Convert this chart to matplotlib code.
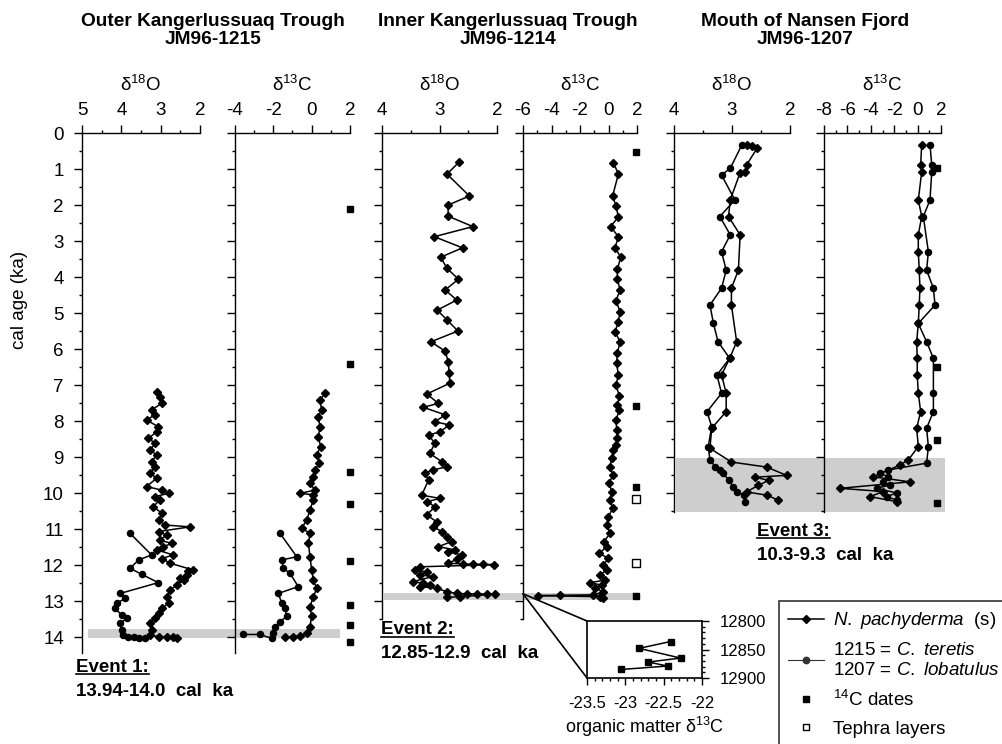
import matplotlib
matplotlib.use('Agg')
import matplotlib.pyplot as plt
from matplotlib.lines import Line2D
from matplotlib.patches import ConnectionPatch
from matplotlib.ticker import MultipleLocator

plt.rcParams['font.family'] = ['Liberation Sans', 'DejaVu Sans']
plt.rcParams['mathtext.fontset'] = 'custom'
plt.rcParams['mathtext.rm'] = 'Liberation Sans'
plt.rcParams['mathtext.it'] = 'Liberation Sans:italic'
plt.rcParams['mathtext.bf'] = 'Liberation Sans:bold'
plt.rcParams['axes.unicode_minus'] = False

# ---------------- data ----------------
# JM96-1215  d18O  N. pachyderma
age_1215_np_o = [7.19, 7.33, 7.51, 7.69, 7.83, 7.97, 8.16, 8.30, 8.48, 8.62, 8.81, 8.94, 9.13, 9.27,
                 9.45, 9.59, 9.82, 9.92, 10.01, 10.10, 10.19, 10.38, 10.56, 10.75, 10.89, 10.94,
                 11.07, 11.17, 11.31, 11.40, 11.49, 11.58, 11.72, 11.82, 11.95, 12.14, 12.18,
                 12.28, 12.37, 12.42, 12.56, 12.69, 12.88, 13.06, 13.20, 13.34, 13.48, 13.62,
                 13.81, 13.95, 13.99, 14.00, 14.01, 14.02]
d18o_1215_np = [3.10, 3.02, 2.97, 3.23, 3.14, 3.36, 3.06, 3.10, 3.31, 3.14, 3.27, 3.10, 3.23, 3.14,
                3.27, 3.10, 3.36, 2.97, 2.80, 3.14, 3.02, 3.19, 2.97, 3.05, 2.89, 2.25,
                3.05, 2.85, 3.02, 2.72, 2.93, 3.10, 2.68, 2.97, 2.76, 2.17, 2.30,
                2.34, 2.51, 2.40, 2.59, 2.76, 2.85, 2.80, 2.97, 3.05, 3.14, 3.27,
                3.23, 3.27, 3.05, 2.85, 2.68, 2.59]
# JM96-1215  d18O  C. teretis
age_1215_ct_o = [11.12, 11.72, 11.86, 12.09, 12.26, 12.49, 12.79, 12.93, 13.06, 13.20, 13.39,
                 13.48, 13.62, 13.81, 13.94, 13.99, 14.00, 14.04, 14.02]
d18o_1215_ct = [3.78, 3.23, 3.56, 3.78, 3.48, 3.06, 4.03, 3.90, 4.12, 4.17, 3.99,
                3.86, 4.03, 3.99, 3.95, 3.82, 3.69, 3.56, 3.39]
# JM96-1215  d13C  N. pachyderma
age_1215_np_c = [7.23, 7.42, 7.69, 7.88, 8.16, 8.44, 8.71, 8.94, 9.18, 9.36, 9.55, 9.73, 9.92,
                 10.01, 10.05, 10.19, 10.47, 10.75, 10.98, 11.12, 11.40, 11.77, 12.14, 12.42,
                 12.65, 12.88, 13.16, 13.43, 13.71, 13.90, 13.97, 13.99, 14.00]
d13c_1215_np = [0.69, 0.43, 0.52, 0.35, 0.43, 0.35, 0.47, 0.26, 0.40, 0.17, 0.09, -0.09, 0.17,
                -0.61, 0.09, 0.09, -0.09, -0.26, -0.52, -0.09, -0.17, -0.09, 0.00, 0.09,
                0.26, 0.09, -0.09, 0.00, -0.09, -0.26, -0.61, -0.96, -1.39]
# JM96-1215  d13C  C. teretis
age_1215_ct_c = [11.12, 11.77, 11.86, 12.09, 12.23, 12.60, 12.79, 13.06, 13.20, 13.43, 13.57,
                 13.71, 13.90, 14.04, 13.93, 13.93]
d13c_1215_ct = [-1.65, -0.78, -1.56, -1.48, -1.13, -0.70, -1.74, -1.56, -1.39, -1.30, -1.65,
                -1.91, -2.00, -2.08, -2.70, -3.57]

# JM96-1214  d18O  N. pachyderma
age_1214_o = [0.81, 1.14, 1.75, 2.00, 2.31, 2.60, 2.88, 3.19, 3.45, 3.76, 4.06, 4.36, 4.64, 4.92,
              5.19, 5.50, 5.80, 6.06, 6.35, 6.68, 6.95, 7.25, 7.51, 7.62, 7.83, 8.02, 8.11, 8.30,
              8.39, 8.62, 8.90, 9.13, 9.27, 9.36, 9.45, 9.64, 10.06, 10.15, 10.24, 10.38, 10.61,
              10.80, 10.94, 11.07, 11.21, 11.35, 11.49, 11.58, 11.63, 11.72, 11.84, 11.95, 11.97,
              11.98, 11.98, 11.99, 12.05, 12.14, 12.19, 12.27, 12.32, 12.46, 12.51, 12.56, 12.60,
              12.65, 12.74, 12.79, 12.80, 12.80, 12.81, 12.81, 12.88, 12.90]
d18o_1214 = [2.66, 2.87, 2.48, 2.85, 2.85, 2.42, 3.09, 2.60, 2.98, 2.87, 2.67, 2.90, 2.70, 3.04,
              2.87, 2.68, 3.15, 2.90, 2.85, 2.83, 2.82, 3.22, 3.02, 3.28, 2.90, 3.08, 2.83, 2.99,
              3.19, 3.08, 3.17, 2.96, 2.87, 3.11, 3.25, 3.19, 3.31, 2.99, 3.22, 3.08, 3.22,
              3.05, 3.11, 2.96, 2.87, 2.79, 3.02, 2.73, 2.85, 2.61, 2.70, 2.85, 2.59,
              2.41, 2.24, 2.06, 3.34, 3.43, 3.22, 3.34, 3.11, 3.46, 3.28, 3.17, 3.34,
              3.05, 2.87, 2.70, 2.53, 2.35, 2.18, 2.03, 2.64, 2.87]
# JM96-1214  d13C  N. pachyderma
age_1214_c = [0.82, 1.14, 1.75, 2.03, 2.33, 2.60, 2.88, 3.19, 3.45, 3.79, 4.06, 4.36, 4.66, 4.96,
              5.24, 5.52, 5.80, 6.12, 6.40, 6.72, 7.00, 7.31, 7.56, 7.69, 7.97, 8.25, 8.48, 8.67,
              8.80, 9.04, 9.27, 9.50, 9.73, 9.97, 10.19, 10.43, 10.66, 10.89, 11.12, 11.35, 11.49,
              11.68, 11.81, 12.00, 12.14, 12.28, 12.42, 12.49, 12.56, 12.65, 12.74, 12.83, 12.84,
              12.85, 12.88, 12.93]
d13c_1214 = [0.34, 0.69, 0.29, 0.53, 0.69, 0.15, 0.69, 0.46, 0.86, 0.62, 0.62, 0.81, 0.53, 0.81,
             0.69, 0.46, 0.81, 0.62, 0.57, 0.69, 0.53, 0.76, 0.62, 0.76, 0.53, 0.57, 0.62, 0.53,
             0.34, 0.22, 0.11, 0.29, 0.06, 0.22, 0.11, 0.29, -0.01, -0.13, 0.11, -0.31, -0.13,
             -0.64, -0.01, -0.36, -0.13, -0.59, -0.24, -1.29, -0.48, -0.94, -0.36, -1.07, -3.41,
             -4.93, -0.59, -0.40]

# JM96-1207  d18O
age_1207_np_o = [0.33, 0.37, 0.43, 0.89, 1.08, 1.10, 1.86, 2.32, 2.83, 3.81, 4.31, 4.78, 5.80,
                 6.26, 6.72, 7.23, 7.74, 8.20, 8.76, 9.14, 9.28, 9.51, 9.56, 9.65, 9.79, 9.97,
                 10.06, 10.20]
d18o_1207_np = [2.74, 2.65, 2.57, 2.75, 2.77, 2.86, 3.03, 3.06, 2.86, 2.89, 3.01, 3.01, 2.92,
                3.04, 3.18, 3.10, 3.10, 3.35, 3.38, 3.01, 2.40, 2.06, 2.60, 2.37, 2.55, 2.75,
                2.40, 2.20]
age_1207_cl_o = [0.33, 0.98, 1.17, 1.86, 2.32, 2.83, 3.30, 3.81, 4.31, 4.78, 5.29, 5.80, 6.26,
                 6.72, 7.23, 7.74, 8.16, 8.71, 9.08, 9.27, 9.36, 9.45, 9.64, 9.82, 9.96, 10.06,
                 10.24]
d18o_1207_cl = [2.83, 3.03, 3.18, 2.95, 3.21, 3.03, 3.18, 3.10, 3.18, 3.38, 3.32, 3.24, 3.04,
                3.26, 3.18, 3.43, 3.35, 3.41, 3.38, 3.29, 3.21, 3.15, 3.06, 2.98, 2.92, 2.80,
                2.78]
# JM96-1207  d13C
age_1207_np_c = [0.33, 0.89, 1.08, 1.86, 2.32, 2.83, 3.30, 3.81, 4.31, 4.78, 5.29, 5.80, 6.26,
                 6.72, 7.23, 7.74, 8.20, 8.71, 9.08, 9.22, 9.55, 9.69, 9.87, 9.96, 10.10, 10.24]
d13c_1207_np = [0.35, 0.26, 0.35, 0.06, 0.35, 0.06, 0.06, 0.14, 0.20, 0.14, 0.06, -0.08, -0.03,
                -0.03, 0.06, 0.26, -0.08, 0.06, -0.79, -1.50, -3.79, -0.65, -6.63, -2.93, -4.07,
                -1.79]
age_1207_cl_c = [0.33, 0.89, 1.08, 1.86, 2.32, 3.30, 3.81, 4.31, 4.78, 5.29, 5.80, 6.26, 7.23,
                 7.74, 8.20, 8.71, 9.17, 9.36, 9.45, 9.55, 9.69, 9.78, 9.87, 10.00, 10.10, 10.20]
d13c_1207_cl = [1.06, 1.21, 1.21, 1.06, 0.49, 0.92, 0.77, 1.35, 1.49, 0.06, 0.77, 1.35, 1.35,
                1.35, 0.77, 0.92, 0.77, -2.50, -3.21, -2.50, -2.93, -2.36, -3.50, -1.79, -2.64,
                -1.79]

# 14C dates and tephra layers (cal ka)
c14_1215 = [2.11, 6.42, 9.41, 10.31, 11.90, 13.10, 13.67, 14.13]
c14_1214 = [0.54, 7.58, 9.83, 12.86]
tephra_1214 = [10.18, 11.95]
c14_1207 = [0.98, 6.49, 8.53, 10.29]

# inset: organic matter d13C, JM96-1214
inset_d13c = [-22.41, -22.82, -22.28, -22.70, -22.45, -23.05]
inset_age = [12836, 12848, 12865, 12872, 12879, 12885]

# events (cal ka)
event_1215 = (13.78, 14.03)
event_1214 = (12.78, 12.97)
event_1207 = (9.04, 10.52)

age_ticks = list(range(0, 15))

# ---------------- figure ----------------
W, H = 1002, 744
fig = plt.figure(figsize=(W / 100, H / 100), dpi=100)
Y0, PXK = 133, 36.0
FS = 13.5


def add_panel(x0, x1, ymax, xlim, major, minor, xlabel, ylab=False):
    top = 1 - Y0 / H
    h = ymax * PXK / H
    ax = fig.add_axes([x0 / W, top - h, (x1 - x0) / W, h])
    ax.set_facecolor('none')
    for s in ('right', 'bottom'):
        ax.spines[s].set_visible(False)
    for s in ('left', 'top'):
        ax.spines[s].set_linewidth(1.0)
    ax.xaxis.tick_top()
    ax.xaxis.set_label_position('top')
    ax.set_xlim(*xlim)
    ax.set_ylim(ymax, 0)
    ax.xaxis.set_major_locator(MultipleLocator(major))
    ax.xaxis.set_minor_locator(MultipleLocator(minor))
    ax.yaxis.set_major_locator(MultipleLocator(1))
    ax.yaxis.set_minor_locator(MultipleLocator(0.5))
    ax.tick_params(which='major', direction='out', length=6, width=1.0, labelsize=FS, pad=4)
    ax.tick_params(which='minor', direction='out', length=2.5, width=1.0)
    ax.tick_params(axis='y', labelleft=ylab, pad=7)
    ax.set_xlabel(xlabel, fontsize=FS, labelpad=8)
    return ax


p1 = add_panel(82, 200, 14.45, (5, 2), 1, 0.5, 'δ$^{18}$O', ylab=True)
p2 = add_panel(235, 350, 14.45, (-4, 2), 2, 1, 'δ$^{13}$C')
p3 = add_panel(382, 497, 13.5, (4, 2), 1, 0.5, 'δ$^{18}$O')
p4 = add_panel(523, 637, 13.5, (-6, 2), 2, 1, 'δ$^{13}$C')
p5 = add_panel(674, 790, 10.52, (4, 2), 1, 0.5, 'δ$^{18}$O')
p6 = add_panel(824, 941, 10.52, (-8, 2), 2, 1, 'δ$^{13}$C')
p1.set_yticks(age_ticks)

# event bands (span across both panels of a core)
band_c = '#cecece'
p1.axhspan(*event_1215, xmin=0.05, xmax=2.19, color=band_c, lw=0, clip_on=False, zorder=0)
p3.axhspan(*event_1214, xmin=0.02, xmax=2.24, color=band_c, lw=0, clip_on=False, zorder=0)
p5.axhspan(*event_1207, xmin=0.02, xmax=2.34, color=band_c, lw=0, clip_on=False, zorder=0)

dkw = dict(color='k', lw=1.1, ms=4.0, clip_on=False, zorder=3)
ckw = dict(color='k', lw=1.1, ms=4.4, clip_on=False, zorder=3)

p1.plot(d18o_1215_np, age_1215_np_o, '-D', **dkw)
p1.plot(d18o_1215_ct, age_1215_ct_o, '-o', **ckw)
p2.plot(d13c_1215_np, age_1215_np_c, '-D', **dkw)
p2.plot(d13c_1215_ct, age_1215_ct_c, '-o', **ckw)
p3.plot(d18o_1214, age_1214_o, '-D', **dkw)
p4.plot(d13c_1214, age_1214_c, '-D', **dkw)
p5.plot(d18o_1207_np, age_1207_np_o, '-D', **dkw)
p5.plot(d18o_1207_cl, age_1207_cl_o, '-o', **ckw)
p6.plot(d13c_1207_np, age_1207_np_c, '-D', **dkw)
p6.plot(d13c_1207_cl, age_1207_cl_c, '-o', **ckw)

skw = dict(ls='none', marker='s', ms=5, mfc='k', mec='k', clip_on=False, zorder=4)
okw = dict(ls='none', marker='s', ms=5.5, mfc='white', mec='k', mew=1.0, clip_on=False, zorder=4)
p2.plot([2.0] * len(c14_1215), c14_1215, **skw)
p4.plot([1.95] * len(c14_1214), c14_1214, **skw)
p4.plot([1.95] * len(tephra_1214), tephra_1214, **okw)
p6.plot([1.7] * len(c14_1207), c14_1207, **skw)

# titles
def ftext(x, y, s, **kw):
    return fig.text(x / W, 1 - y / H, s, **kw)

tkw = dict(ha='center', va='center', fontsize=13.8, fontweight='bold')
ftext(213, 22, 'Outer Kangerlussuaq Trough', **tkw)
ftext(213, 39, 'JM96-1215', **tkw)
ftext(508, 22, 'Inner Kangerlussuaq Trough', **tkw)
ftext(508, 39, 'JM96-1214', **tkw)
ftext(805, 22, 'Mouth of Nansen Fjord', **tkw)
ftext(805, 39, 'JM96-1207', **tkw)

ftext(20, 300, 'cal age (ka)', rotation=90, ha='center', va='center', fontsize=FS)

# event labels
ekw = dict(ha='left', va='center', fontsize=FS, fontweight='bold')
ev_heads = [ftext(76, 667, 'Event 1:', **ekw), ftext(381, 630, 'Event 2:', **ekw),
            ftext(757, 531, 'Event 3:', **ekw)]
ftext(76, 692, '13.94-14.0  cal  ka', **ekw)
ftext(381, 654, '12.85-12.9  cal  ka', **ekw)
ftext(757, 555, '10.3-9.3  cal  ka', **ekw)

# inset
ins = fig.add_axes([587 / W, 1 - 678 / H, 115 / W, 57 / H])
ins.plot(inset_d13c, inset_age, '-s', color='k', lw=1.1, ms=5)
ins.set_xlim(-23.5, -22)
ins.set_ylim(12900, 12800)
ins.yaxis.tick_right()
ins.set_xticks([-23.5, -23, -22.5, -22])
ins.set_xticklabels(['-23.5', '-23', '-22.5', '-22'])
ins.set_yticks([12800, 12850, 12900])
ins.xaxis.set_minor_locator(MultipleLocator(0.1))
ins.yaxis.set_minor_locator(MultipleLocator(10))
ins.tick_params(which='major', direction='out', length=5, width=1.0, labelsize=12, pad=8)
ins.tick_params(which='minor', direction='out', length=2.5, width=1.0)
for s in ins.spines.values():
    s.set_linewidth(1.2)
ins.set_xlabel('organic matter δ$^{13}$C', fontsize=13, labelpad=3)

for corner in [(0, 1), (0, 0)]:
    con = ConnectionPatch(xyA=(-6, 12.8), coordsA=p4.transData, xyB=corner,
                          coordsB=ins.transAxes, color='k', lw=1.2)
    fig.add_artist(con)

# legend
handles = [Line2D([], [], color='k', marker='D', ms=4.2, lw=1.1),
           Line2D([], [], color='#333333', marker='o', ms=4.6, lw=0.8),
           Line2D([], [], ls='none', marker='s', ms=4.0, mfc='k', mec='k'),
           Line2D([], [], ls='none', marker='s', ms=4.0, mfc='white', mec='k')]
labels = [r'$\it{N.\ pachyderma}$  (s)',
          '1215 = $\\it{C.\\ teretis}$\n1207 = $\\it{C.\\ lobatulus}$',
          '$^{14}$C dates', 'Tephra layers']
leg = fig.legend(handles, labels, loc='upper left', bbox_to_anchor=(779 / W, 1 - 601 / H),
                 fontsize=FS, frameon=True, fancybox=False, edgecolor='k', borderpad=0.5,
                 handlelength=1.9, handletextpad=0.5, labelspacing=0.58, borderaxespad=0)
leg.get_frame().set_linewidth(1.2)

# underline event headings
fig.canvas.draw()
r = fig.canvas.get_renderer()
inv = fig.transFigure.inverted()
for t in ev_heads:
    bb = t.get_window_extent(r).transformed(inv)
    fig.add_artist(Line2D([bb.x0, bb.x1], [bb.y0 + 1.5 / H, bb.y0 + 1.5 / H],
                          transform=fig.transFigure, color='k', lw=1.2))

fig.savefig('out.png', dpi=100)
